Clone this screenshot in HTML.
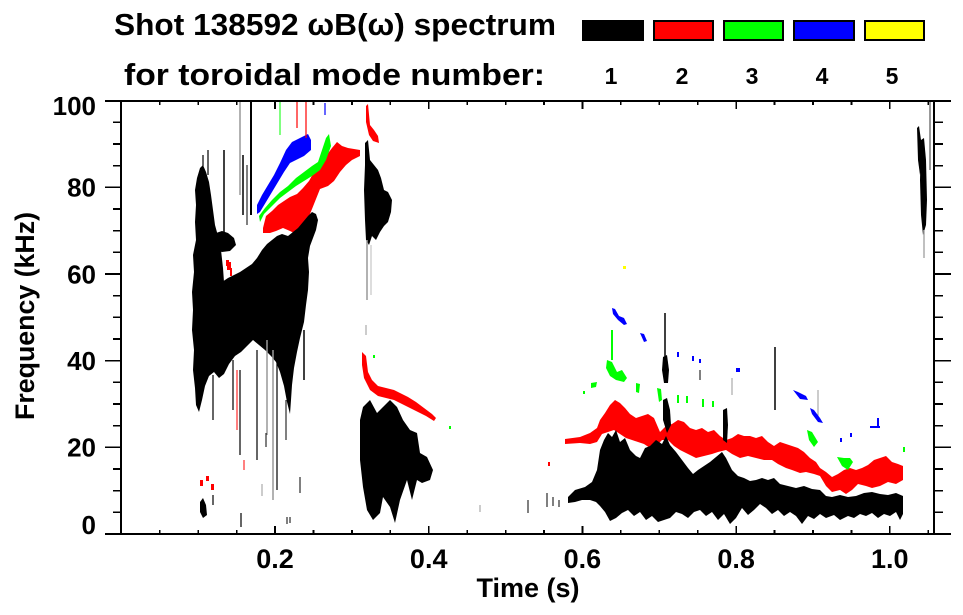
<!DOCTYPE html>
<html><head><meta charset="utf-8"><style>html,body{margin:0;padding:0;background:#fff}svg{display:block}</style></head>
<body>
<svg width="963" height="615" viewBox="0 0 963 615" xmlns="http://www.w3.org/2000/svg">
<rect x="0" y="0" width="963" height="615" fill="#fff"/>

<!-- ===== DATA ===== -->
<!-- early red/green/blue diagonal bands -->
<polygon fill="#f00" points="263,228 266,216 272,211 278,205 284,201 290,197 297,194 303,188 309,181 314,172 320,163 326,156 332,148 337,142 342,146 348,148 354,149 360,150 360,156 352,160 346,165 340,172 334,181 328,186 320,189 316,199 312,209 307,221 301,229 296,234 290,231 283,228 276,231 270,233 263,233"/>
<polygon fill="#0f0" points="259,216 265,208 272,200 280,192 288,186 296,178 304,172 312,166 318,162 322,150 326,138 329,134 331,146 326,160 320,170 312,176 304,181 296,186 288,192 280,198 272,206 264,214 260,222"/>
<polygon fill="#00f" points="257,205 262,195 268,185 274,175 280,163 286,150 292,142 300,138 308,134 311,140 311,150 304,156 296,160 290,163 284,172 278,182 272,192 266,202 260,212 257,214"/>
<polygon fill="#f00" points="366,106 368,104 370,125 374,130 378,136 379,143 373,141 369,135 366,122"/>
<rect x="226" y="260" width="3" height="6" fill="#f00"/><rect x="230" y="268" width="2" height="8" fill="#f00"/>
<line x1="210" y1="195" x2="210" y2="230" stroke="#f00" stroke-width="1.5"/>
<rect x="227" y="262" width="4" height="8" fill="#f00"/>

<!-- early black mass -->
<polygon fill="#000" points="197,178 200,168 203,165 206,172 209,182 211,195 213,210 215,225 218,236 221,250 223,268 224,282 222,300 221,320 222,340 219,360 214,372 209,376 205,386 202,400 199,412 196,405 195,388 193,370 194,350 192,330 193,310 192,292 194,272 193,255 196,240 195,222 196,205 195,190"/>
<polygon fill="#000" points="211,240 216,233 222,231 228,233 234,238 236,245 230,251 222,252 215,250"/>
<polygon fill="#000" points="222,282 228,278 234,275 240,272 246,268 252,264 257,258 262,250 267,244 272,240 277,236 282,234 288,236 293,232 298,228 303,222 308,216 312,212 316,214 318,220 316,230 313,238 310,246 308,258 309,272 308,290 306,305 304,322 300,338 297,352 294,368 292,385 291,400 290,414 287,402 284,386 280,372 276,362 271,356 265,350 259,345 253,340 247,346 241,352 235,356 229,364 224,374 219,378 214,372 217,350 219,330 220,310 221,295"/>
<g stroke-linecap="butt">
<line x1="240" y1="100" x2="240" y2="195" stroke="#999" stroke-width="1.5"/>
<line x1="251" y1="100" x2="251" y2="215" stroke="#000" stroke-width="2"/>
<line x1="224" y1="150" x2="224" y2="240" stroke="#000" stroke-width="1.5"/>
<line x1="243" y1="155" x2="243" y2="215" stroke="#000" stroke-width="1.5"/>
<line x1="247" y1="165" x2="247" y2="225" stroke="#000" stroke-width="1"/>
<line x1="280" y1="100" x2="280" y2="135" stroke="#0f0" stroke-width="1"/>
<line x1="297" y1="100" x2="297" y2="128" stroke="#f00" stroke-width="1.2"/>
<line x1="306" y1="100" x2="306" y2="138" stroke="#f00" stroke-width="1.2"/>
<line x1="325" y1="103" x2="325" y2="115" stroke="#00f" stroke-width="1.2"/>
<line x1="208" y1="150" x2="208" y2="175" stroke="#000" stroke-width="1.2"/>
<line x1="203" y1="155" x2="203" y2="166" stroke="#000" stroke-width="1.2"/>
<line x1="267" y1="340" x2="267" y2="435" stroke="#999" stroke-width="1.5"/>
<line x1="273" y1="350" x2="273" y2="500" stroke="#999" stroke-width="1.5"/>
<line x1="277" y1="355" x2="277" y2="490" stroke="#000" stroke-width="1.2"/>
<line x1="257" y1="350" x2="257" y2="460" stroke="#000" stroke-width="1.2"/>
<line x1="240" y1="370" x2="240" y2="455" stroke="#000" stroke-width="1.2"/>
<line x1="237" y1="370" x2="237" y2="430" stroke="#f00" stroke-width="1"/>
<line x1="213" y1="375" x2="213" y2="420" stroke="#000" stroke-width="1.2"/>
<line x1="233" y1="360" x2="233" y2="410" stroke="#000" stroke-width="1.2"/>
<line x1="286" y1="400" x2="286" y2="440" stroke="#000" stroke-width="1"/>
<line x1="304" y1="330" x2="304" y2="380" stroke="#000" stroke-width="1.5"/>
<line x1="213" y1="495" x2="213" y2="505" stroke="#000" stroke-width="1.2"/>
<line x1="241" y1="513" x2="241" y2="527" stroke="#000" stroke-width="1.2"/>
<line x1="287" y1="517" x2="287" y2="524" stroke="#000" stroke-width="1"/>
<line x1="290" y1="517" x2="290" y2="523" stroke="#000" stroke-width="1"/>
<line x1="300" y1="477" x2="300" y2="493" stroke="#000" stroke-width="1"/>
<line x1="262" y1="484" x2="262" y2="496" stroke="#999" stroke-width="1"/>
<line x1="266" y1="433" x2="266" y2="447" stroke="#000" stroke-width="1"/>
<line x1="244" y1="460" x2="244" y2="470" stroke="#f00" stroke-width="1"/>
</g>
<polygon fill="#000" points="200,502 203,498 206,505 207,515 203,518 200,512"/>
<rect x="200" y="480" width="3" height="6" fill="#f00"/>
<rect x="206" y="476" width="3" height="5" fill="#f00"/>
<rect x="211" y="484" width="3" height="6" fill="#f00"/>

<!-- black blob ~0.32s, 70-90 kHz -->
<polygon fill="#000" points="365,143 368,140 370,160 374,165 378,170 381,178 384,190 388,192 392,200 391,212 388,222 384,226 380,232 376,240 372,236 369,245 366,240 365,220 364,190 365,165"/>
<line x1="367" y1="240" x2="367" y2="300" stroke="#999" stroke-width="1.5"/>
<line x1="371" y1="245" x2="371" y2="295" stroke="#bbb" stroke-width="1"/>
<line x1="366" y1="325" x2="366" y2="335" stroke="#999" stroke-width="1"/>

<!-- red trailing line -->
<polygon fill="#f00" points="362,352 366,356 368,372 372,380 378,386 386,388 394,390 400,393 408,397 416,402 424,408 432,414 436,418 434,421 426,416 418,412 410,408 402,404 394,400 386,398 378,396 370,390 364,378 362,365"/>
<rect x="373" y="355" width="2" height="3" fill="#0f0"/>
<rect x="449" y="426" width="2" height="3" fill="#0f0"/>

<!-- black blob ~0.32-0.40s, low freq -->
<polygon fill="#000" points="360,420 363,407 370,400 377,413 383,407 390,400 397,407 403,420 410,430 417,433 420,453 427,457 433,470 430,480 422,483 417,480 412,500 407,480 400,500 395,523 390,507 383,497 380,513 373,520 367,510 363,487 360,460"/>

<!-- scattered dots before 0.57s -->
<line x1="480" y1="505" x2="480" y2="512" stroke="#999" stroke-width="1"/>
<line x1="528" y1="500" x2="528" y2="513" stroke="#000" stroke-width="1"/>
<line x1="547" y1="493" x2="547" y2="507" stroke="#000" stroke-width="1"/>
<line x1="553" y1="497" x2="553" y2="506" stroke="#000" stroke-width="1"/>
<line x1="559" y1="500" x2="559" y2="507" stroke="#000" stroke-width="1"/>
<rect x="548" y="462" width="2" height="4" fill="#f00"/>

<!-- late red band -->
<polygon fill="#f00" points="565,439 580,437 590,433 597,428 600,420 605,413 610,405 615,400 620,403 625,408 630,414 636,418 642,416 648,414 654,418 660,432 666,426 672,424 678,420 684,422 690,428 696,430 702,428 708,432 714,430 720,436 726,440 732,438 738,434 744,436 750,436 756,438 762,436 768,442 774,446 780,442 786,444 792,446 798,448 804,452 810,458 816,462 820,468 826,472 832,477 838,474 844,470 850,468 856,470 862,468 868,465 874,460 880,458 886,456 892,462 898,464 903,466 903,480 896,484 888,482 880,486 872,488 866,486 858,484 852,490 846,494 840,490 832,492 826,486 820,476 814,474 806,472 800,473 792,470 786,468 778,464 772,460 764,460 756,458 748,456 740,458 732,454 726,450 718,452 712,454 704,456 696,458 688,454 680,450 674,446 668,440 662,440 656,446 650,448 644,444 638,442 632,440 626,438 620,434 614,430 608,432 602,434 597,442 590,444 580,443 565,444"/>

<!-- late black band -->
<polygon fill="#000" points="568,497 575,490 585,487 592,482 597,470 600,450 604,440 608,433 612,437 616,430 620,442 625,438 630,450 636,456 640,458 645,448 650,446 656,440 662,444 666,436 670,445 676,452 682,460 688,468 693,474 698,470 704,466 710,462 716,457 722,452 726,458 732,470 738,476 744,478 750,481 756,480 762,478 768,480 774,478 780,484 788,486 796,488 804,486 812,489 820,490 826,496 832,497 840,495 848,497 856,496 864,493 872,492 880,494 888,495 896,493 903,496 903,514 900,520 896,512 890,516 884,514 878,518 872,513 866,516 860,514 854,518 848,516 840,520 834,515 826,518 820,514 814,519 808,516 802,524 796,516 790,512 784,516 778,510 772,514 766,508 760,504 754,510 748,515 742,508 736,518 730,524 724,514 718,520 712,512 706,516 700,510 694,512 688,518 682,514 676,512 670,518 664,520 658,522 652,516 646,520 640,512 634,516 628,510 622,513 616,518 610,521 605,512 600,506 596,502 590,500 582,500 575,502 568,503"/>

<!-- late spikes -->
<line x1="665" y1="313" x2="665" y2="360" stroke="#000" stroke-width="1.5"/>
<polygon fill="#000" points="663,357 667,355 669,370 668,383 664,383 662,370"/>
<polygon fill="#000" points="663,400 667,398 670,410 671,425 667,433 663,420"/>
<polygon fill="#000" points="723,410 727,408 728,425 727,443 723,440"/>
<line x1="775" y1="347" x2="775" y2="410" stroke="#000" stroke-width="1.5"/>
<line x1="700" y1="370" x2="700" y2="380" stroke="#000" stroke-width="1"/>
<line x1="732" y1="378" x2="732" y2="395" stroke="#999" stroke-width="1"/>
<line x1="818" y1="390" x2="818" y2="420" stroke="#999" stroke-width="1"/>

<!-- late green specks -->
<g fill="#0f0">
<polygon points="607,360 612,362 617,372 622,370 627,378 624,382 616,380 610,376 606,368"/>
<rect x="611" y="330" width="2" height="30"/>
<polygon points="636,383 640,384 639,393 636,392"/>
<polygon points="657,388 661,389 662,400 659,402"/>
<polygon points="591,383 597,382 596,387 591,388"/>
<rect x="583" y="391" width="2" height="3"/>
<rect x="677" y="395" width="2" height="8"/><rect x="686" y="396" width="2" height="7"/>
<rect x="702" y="399" width="2" height="8"/><rect x="712" y="401" width="2" height="6"/>
<polygon points="807,430 812,432 818,442 814,447 809,440"/>
<polygon points="837,457 844,458 850,458 853,462 848,470 842,466"/>
<rect x="903" y="447" width="2" height="5"/>
</g>
<!-- late blue specks -->
<g fill="#00f">
<polygon points="612,308 615,309 619,316 624,318 627,324 624,325 618,320 613,314"/>
<polygon points="640,333 644,334 647,341 644,342"/>
<rect x="677" y="352" width="2" height="5"/><rect x="692" y="356" width="2" height="5"/><rect x="699" y="359" width="2" height="4"/>
<rect x="736" y="368" width="4" height="4"/>
<polygon points="793,390 798,392 806,396 808,400 800,399"/>
<polygon points="810,408 814,410 820,418 823,423 818,422 812,414"/>
<rect x="870" y="426" width="10" height="2"/><rect x="877" y="418" width="2" height="8"/>
<rect x="840" y="438" width="2" height="4"/><rect x="850" y="433" width="2" height="4"/>
</g>
<rect x="623" y="266" width="3" height="3" fill="#ff0"/>

<!-- right streak ~1.04s -->
<polygon fill="#000" points="917,128 919,126 921,140 922,165 920,175 918,160"/>
<polygon fill="#000" points="921,140 924,138 926,160 927,200 926,225 923,235 921,215 920,180"/>
<line x1="930" y1="101" x2="930" y2="170" stroke="#999" stroke-width="2"/>
<line x1="924" y1="230" x2="924" y2="258" stroke="#aaa" stroke-width="1.5"/>

<!-- ===== AXES ===== -->
<g stroke="#000" stroke-width="1.7" fill="none" shape-rendering="crispEdges">
<line x1="121" y1="100" x2="121" y2="535"/>
<line x1="934" y1="100" x2="934" y2="535"/>
<!-- y major ticks (both sides outward) -->
<line x1="105" y1="534" x2="951" y2="534"/>
<line x1="105" y1="101" x2="951" y2="101"/>
<line x1="105" y1="447.3" x2="121" y2="447.3"/><line x1="934" y1="447.3" x2="951" y2="447.3"/>
<line x1="105" y1="360.7" x2="121" y2="360.7"/><line x1="934" y1="360.7" x2="951" y2="360.7"/>
<line x1="105" y1="274" x2="121" y2="274"/><line x1="934" y1="274" x2="951" y2="274"/>
<line x1="105" y1="187.3" x2="121" y2="187.3"/><line x1="934" y1="187.3" x2="951" y2="187.3"/>
<!-- y minor ticks -->
<path d="M113 512.3H121M113 490.7H121M113 469H121M113 425.7H121M113 404H121M113 382.3H121M113 339H121M113 317.3H121M113 295.7H121M113 252.3H121M113 230.7H121M113 209H121M113 165.7H121M113 144H121M113 122.3H121"/>
<path d="M934 512.3H943M934 490.7H943M934 469H943M934 425.7H943M934 404H943M934 382.3H943M934 339H943M934 317.3H943M934 295.7H943M934 252.3H943M934 230.7H943M934 209H943M934 165.7H943M934 144H943M934 122.3H943"/>
<!-- x ticks bottom (inward) -->
<path d="M159.7 534V530M198.2 534V530M236.6 534V530M313.4 534V530M351.9 534V530M390.3 534V530M467.1 534V530M505.6 534V530M544 534V530M620.8 534V530M659.3 534V530M697.7 534V530M774.5 534V530M812.9 534V530M851.4 534V530M928.2 534V530"/>
<path d="M275 534V526M428.7 534V526M582.4 534V526M736.1 534V526M889.8 534V526"/>
<!-- x ticks top (inward) -->
<path d="M159.7 101V105M198.2 101V105M236.6 101V105M313.4 101V105M351.9 101V105M390.3 101V105M467.1 101V105M505.6 101V105M544 101V105M620.8 101V105M659.3 101V105M697.7 101V105M774.5 101V105M812.9 101V105M851.4 101V105M928.2 101V105"/>
<path d="M275 101V109M428.7 101V109M582.4 101V109M736.1 101V109M889.8 101V109"/>
</g>

<!-- ===== TEXT ===== -->
<g font-family="'Liberation Sans', Arial, Helvetica, sans-serif" font-weight="bold" fill="#000">
<text x="114" y="35" font-size="31" textLength="442" lengthAdjust="spacingAndGlyphs">Shot 138592 ωB(ω) spectrum</text>
<text x="124" y="85" font-size="31" textLength="421" lengthAdjust="spacingAndGlyphs">for toroidal mode number:</text>
<g font-size="23" text-anchor="middle">
<text x="611" y="84">1</text><text x="682" y="84">2</text><text x="752" y="84">3</text><text x="822" y="84">4</text><text x="892" y="84">5</text>
</g>
<g font-size="26" text-anchor="end">
<text x="96" y="115">100</text>
<text x="96" y="196.6">80</text>
<text x="96" y="283.3">60</text>
<text x="96" y="370">40</text>
<text x="96" y="456.6">20</text>
<text x="96" y="534">0</text>
</g>
<g font-size="27" text-anchor="middle">
<text x="275" y="568">0.2</text>
<text x="428.7" y="568">0.4</text>
<text x="582.4" y="568">0.6</text>
<text x="736.1" y="568">0.8</text>
<text x="889.8" y="568">1.0</text>
<text x="528" y="597">Time (s)</text>
</g>
<text transform="translate(34,316) rotate(-90)" font-size="27" text-anchor="middle" textLength="208" lengthAdjust="spacingAndGlyphs">Frequency (kHz)</text>
</g>

<!-- legend boxes -->
<rect x="582" y="20" width="62" height="21" fill="#000"/>
<rect x="654" y="21" width="59" height="19" fill="#f00" stroke="#000" stroke-width="2"/>
<rect x="724" y="21" width="59" height="19" fill="#0f0" stroke="#000" stroke-width="2"/>
<rect x="794" y="21" width="60" height="19" fill="#00f" stroke="#000" stroke-width="2"/>
<rect x="865" y="21" width="59" height="19" fill="#ff0" stroke="#000" stroke-width="2"/>
</svg>
</body></html>
